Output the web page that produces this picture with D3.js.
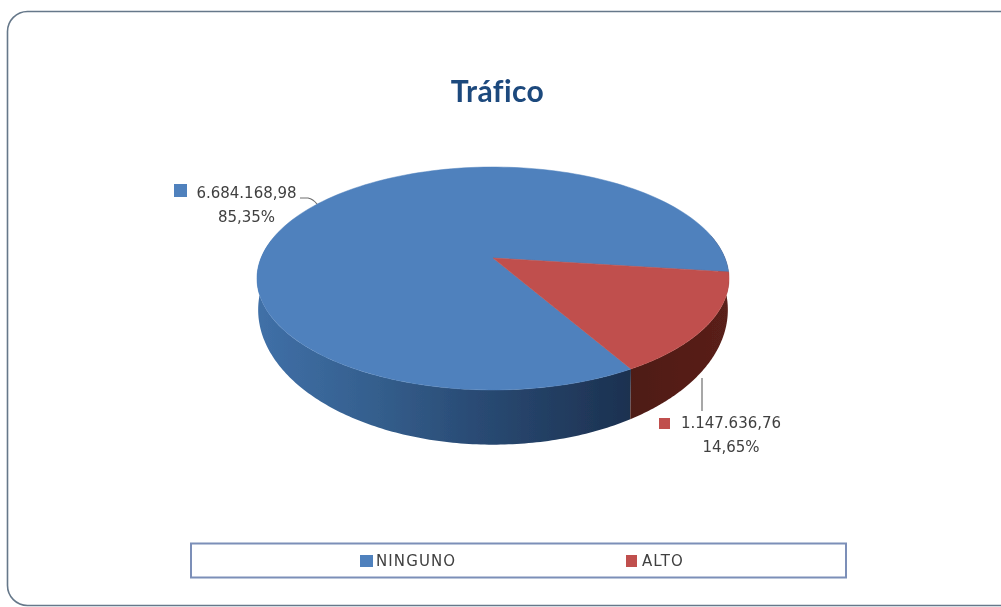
<!DOCTYPE html>
<html><head><meta charset="utf-8">
<script src="https://cdn.jsdelivr.net/npm/d3@7"></script>
<style>html,body{margin:0;padding:0;background:#fff;overflow:hidden}svg{display:block}</style>
</head><body><svg id="c" width="1001" height="607"></svg>
<script>
const categories = ["NINGUNO", "ALTO"];
const values = [6684168.98, 1147636.76];
const valueLabels = ["6.684.168,98", "1.147.636,76"];
const percentLabels = ["85,35%", "14,65%"];
const titleText = "Tráfico";
const topColors = ["#4f81bd", "#c0504d"];

const svg = d3.select("#c");
const defs = svg.append("defs");
const soft = defs.append("filter").attr("id","soft").attr("x","-5%").attr("y","-5%").attr("width","110%").attr("height","110%");
soft.append("feGaussianBlur").attr("stdDeviation",0.6);
const softer = defs.append("filter").attr("id","softText");
softer.append("feGaussianBlur").attr("stdDeviation",0.4);

const gb = defs.append("linearGradient").attr("id","sideBlue").attr("gradientUnits","userSpaceOnUse")
  .attr("x1",255).attr("x2",630).attr("y1",0).attr("y2",0);
[[0,"#4070a8"],[0.3,"#35608f"],[0.6,"#294a73"],[1,"#1c3150"]].forEach(s=>gb.append("stop").attr("offset",s[0]).attr("stop-color",s[1]));
const gr = defs.append("linearGradient").attr("id","sideRed").attr("gradientUnits","userSpaceOnUse")
  .attr("x1",630).attr("x2",729).attr("y1",0).attr("y2",0);
[[0,"#4e1b15"],[1,"#5a201a"]].forEach(s=>gr.append("stop").attr("offset",s[0]).attr("stop-color",s[1]));
const sideFills = ["url(#sideBlue)","url(#sideRed)"];

// card
svg.append("rect").attr("x",7.5).attr("y",11.5).attr("width",1020).attr("height",594).attr("rx",20)
  .attr("fill","#fff").attr("stroke","#66788a").attr("stroke-width",1.6).attr("filter","url(#soft)");

// title
svg.append("text").attr("x",497.5).attr("y",102).attr("text-anchor","middle")
  .attr("font-family","Lato, 'Open Sans', sans-serif").attr("font-weight",700).attr("font-size",30)
  .attr("style","font-variant-ligatures:none").attr("letter-spacing",0.4)
  .attr("fill","#1f497d").attr("filter","url(#softText)").text(titleText);

// perspective projection of the pie's unit circle
const persp = 0.1838;
const xScale = d3.scaleLinear().domain([-1,1]).range([-232,232]);
const yScale = d3.scaleLinear().domain([-1,1]).range([-107.7,107.7]);
function project(angle, face){
  const u = Math.sin(angle), v = -Math.cos(angle), w = 1 - persp*v;
  return [face.cx + face.sx*xScale(u)/w, face.cy + face.sy*yScale(v)/w];
}
const topFace = {cx:493, cy:258, sx:1, sy:1};
const baseFace = {cx:493, cy:285, sx:0.995, sy:1.21};

const FIRST_ANGLE = 150*Math.PI/180;
const rad = d3.scaleLinear().domain([0,180]).range([0,Math.PI]);
const arcs = d3.pie().sort(null).startAngle(FIRST_ANGLE).endAngle(FIRST_ANGLE+2*Math.PI)(values);
const line = d3.line();
const sampled = (a0,a1)=>d3.range(0,161).map(i=>a0+(a1-a0)*i/160);
const pieG = svg.append("g").attr("filter","url(#soft)");
const sector = (a0,a1,face)=>{
  const pts = sampled(a0,a1).map(a=>project(a,face));
  pts.push([face.cx,face.cy]);
  return line(pts)+"Z";
};
const wall = (a0,a1)=>{
  const s = sampled(a0,a1);
  return line(s.map(a=>project(a,topFace)).concat(s.slice().reverse().map(a=>project(a,baseFace))))+"Z";
};

// side walls: band between the top rim and the lower rim; the far ends stay hidden under the top face
const wallRanges = [
  [arcs[0].startAngle, arcs[0].startAngle+rad(130)],
  [arcs[1].startAngle-rad(20), arcs[1].endAngle]
];
arcs.forEach((d,i)=>{
  pieG.append("path").attr("d",wall(wallRanges[i][0],wallRanges[i][1])).attr("fill",sideFills[i]);
});
// top faces
arcs.forEach((d,i)=>{
  pieG.append("path").attr("d",sector(d.startAngle,d.endAngle,topFace))
    .attr("fill",topColors[i]).attr("stroke",topColors[i]).attr("stroke-width",0.5);
});

// leaders
const ll = svg.append("g").attr("fill","none").attr("stroke","#6e6e6e").attr("stroke-width",1.2).attr("filter","url(#softText)");
ll.append("path").attr("d","M300,198 L308,198 Q313,199 317,204");
ll.append("path").attr("d","M702,378 L702,411").attr("stroke","#8a8a8a").attr("stroke-width",1.5);

// data labels
const labelSpec = [
  {sx:174,sy:184,ss:13,tx:246.5,ty1:198,ty2:222},
  {sx:659,sy:418,ss:11,tx:731,ty1:428,ty2:452}
];
const lab = svg.append("g").attr("font-family","'DejaVu Sans', Verdana, sans-serif").attr("font-size",15)
  .attr("fill","#404040").attr("filter","url(#softText)");
labelSpec.forEach((p,i)=>{
  lab.append("rect").attr("x",p.sx).attr("y",p.sy).attr("width",p.ss).attr("height",p.ss).attr("fill",topColors[i]);
  lab.append("text").attr("x",p.tx).attr("y",p.ty1).attr("text-anchor","middle").text(valueLabels[i]);
  lab.append("text").attr("x",p.tx).attr("y",p.ty2).attr("text-anchor","middle").text(percentLabels[i]);
});

// legend
const leg = svg.append("g").attr("filter","url(#softText)");
leg.append("rect").attr("x",191).attr("y",543.5).attr("width",655).attr("height",34)
  .attr("fill","#fff").attr("stroke","#7b8fb8").attr("stroke-width",2);
const legendSpec = [{sx:360,sw:13,tx:376},{sx:626,sw:11,tx:642}];
legendSpec.forEach((p,i)=>{
  leg.append("rect").attr("x",p.sx).attr("y",555).attr("width",p.sw).attr("height",12).attr("fill",topColors[i]);
  leg.append("text").attr("x",p.tx).attr("y",566)
    .attr("font-family","'DejaVu Sans', Verdana, sans-serif").attr("font-size",15).attr("letter-spacing",1.1)
    .attr("fill","#404040").text(categories[i]);
});
</script></body></html>
